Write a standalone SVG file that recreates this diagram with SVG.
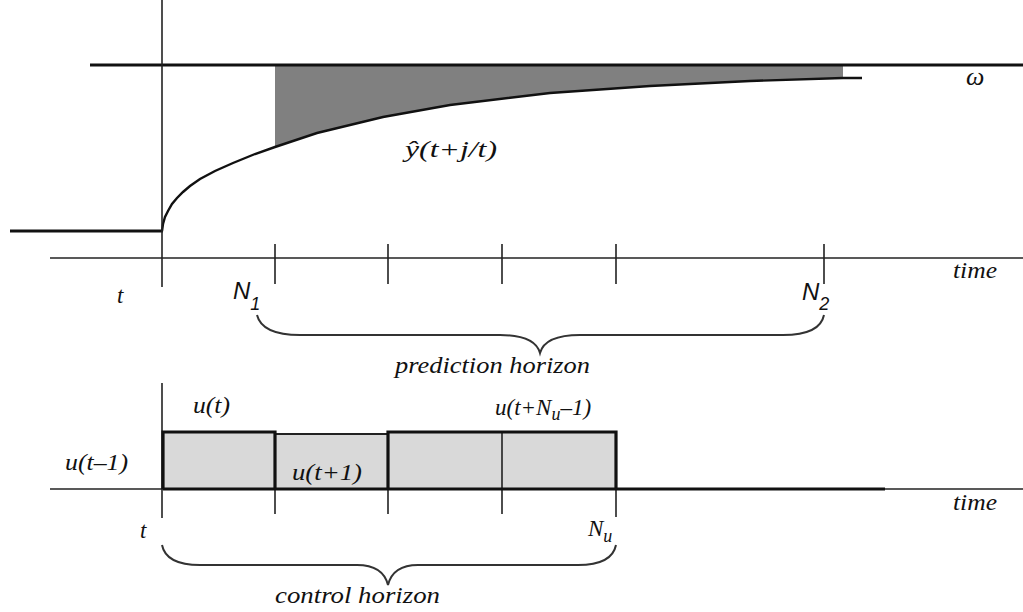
<svg xmlns="http://www.w3.org/2000/svg" width="1023" height="612" viewBox="0 0 1023 612">
<style>
.ax{stroke:#222;stroke-width:1.6;fill:none}
.thick{stroke:#111;stroke-width:3.2;fill:none}
.brace{stroke:#333;stroke-width:2;fill:none}
.lbl{font-family:"Liberation Serif",serif;font-style:italic;font-size:23px;fill:#111}
.sans{font-family:"Liberation Sans",sans-serif;font-style:italic;font-size:24px;fill:#111}
.bar{fill:#d9d9d9;stroke:none}
</style>
<rect width="1023" height="612" fill="#fff"/>
<g id="output-plot">
<polygon points="275,66 843,66 843,78 750,81 650,86 550,93 450,105 383,117 317,133 275,147" fill="#808080"/>
<line class="thick" x1="90" y1="65" x2="1023" y2="65"/>
<line class="thick" x1="10" y1="231" x2="163" y2="231"/>
<polyline class="ax" style="stroke-width:2.4;stroke:#111" points="162,231 163,224 165,217 168,211 172,204 177,198 183,192 190,186 200,179 215,171 233,163 255,154 275,147 317,133 383,117 450,105 550,93 650,86 750,81 843,78 862,78"/>
<line class="ax" x1="162" y1="0" x2="162" y2="287"/>
<line class="ax" x1="50" y1="258" x2="1023" y2="258"/>
<path class="ax" d="M275,244V284M388,244V284M502,244V284M616,244V284M824,244V284"/>
</g>
<g id="labels-top">
<text class="lbl" x="405" y="157" textLength="92" lengthAdjust="spacingAndGlyphs">ŷ(t+j/t)</text>
<text class="lbl" x="966" y="85" style="font-size:26px">ω</text>
<text class="lbl" x="953" y="278" textLength="44" lengthAdjust="spacingAndGlyphs">time</text>
<text class="lbl" x="117" y="303">t</text>
<text class="sans" x="233" y="299">N<tspan font-size="18" dy="11">1</tspan></text>
<text class="sans" x="802" y="300">N<tspan font-size="18" dy="10">2</tspan></text>
</g>
<g id="connectors">
<path class="brace" d="M257,315 Q262,335 300,335 L500,335 Q535,335 540,353 Q545,335 580,335 L783,335 Q820,335 824,315"/>
<path class="brace" d="M162,545 Q166,565 200,565 L357,565 Q383,565 388,585 Q393,565 418,565 L578,565 Q612,565 616,545"/>
</g>
<g id="horizon-labels">
<text class="lbl" x="395" y="373" textLength="195" lengthAdjust="spacingAndGlyphs">prediction horizon</text>
<text class="lbl" x="275" y="603" textLength="165" lengthAdjust="spacingAndGlyphs">control horizon</text>
</g>
<g id="control-plot">
<rect class="bar" x="163" y="432" width="112" height="57"/>
<rect class="bar" x="275" y="434" width="113" height="55"/>
<rect class="bar" x="388" y="432" width="228" height="57"/>
<line class="ax" x1="162" y1="383" x2="162" y2="518"/>
<line class="ax" x1="50" y1="489" x2="1023" y2="489"/>
<path class="ax" d="M275,489V514M388,489V514M502,432V514M616,489V517"/>
<line class="ax" style="stroke-width:1.8" x1="275" y1="434" x2="388" y2="434"/>
<path class="thick" d="M163,489V432H275V489M388,489V432H616V489"/>
<line class="thick" x1="163" y1="489" x2="885" y2="489"/>
</g>
<g id="labels-bottom">
<text class="lbl" x="193" y="413" textLength="37" lengthAdjust="spacingAndGlyphs">u(t)</text>
<text class="lbl" x="65" y="470" textLength="63" lengthAdjust="spacingAndGlyphs">u(t–1)</text>
<text class="lbl" x="292" y="480" textLength="70" lengthAdjust="spacingAndGlyphs">u(t+1)</text>
<text class="lbl" x="495" y="415">u(t+N<tspan font-size="18" dy="5">u</tspan><tspan dy="-5">–1)</tspan></text>
<text class="lbl" x="588" y="536">N<tspan font-size="18" dy="6">u</tspan></text>
<text class="lbl" x="140" y="538">t</text>
<text class="lbl" x="953" y="510" textLength="44" lengthAdjust="spacingAndGlyphs">time</text>
</g>
</svg>
